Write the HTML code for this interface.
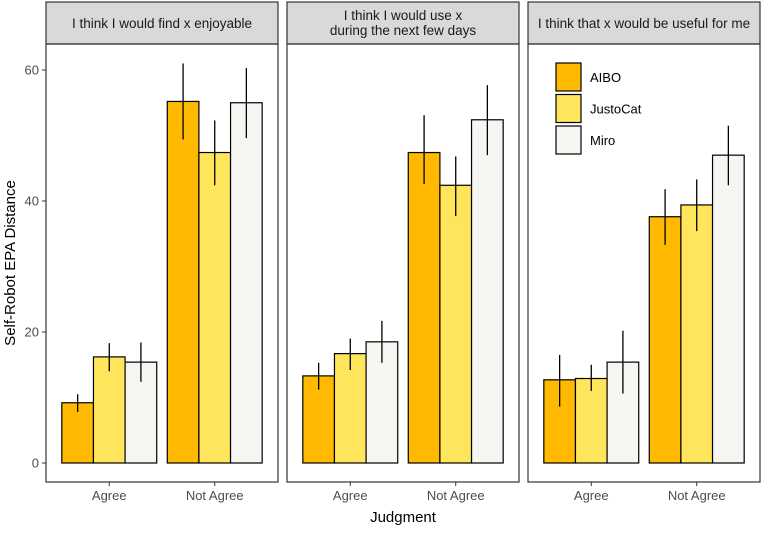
<!DOCTYPE html>
<html><head><meta charset="utf-8"><style>
body{margin:0;background:#fff;font-family:"Liberation Sans",sans-serif}
svg text{font-family:"Liberation Sans",sans-serif}
</style></head><body>
<svg id="c" width="762" height="528" xmlns="http://www.w3.org/2000/svg"></svg>
<script>
const panels=["I think I would find x enjoyable","I think I would use x|during the next few days","I think that x would be useful for me"];
const categories=["Agree","Not Agree"];
const series=["AIBO","JustoCat","Miro"];
const colors=["#FFB900","#FFE55C","#F5F5F2"];
const means=[[[9.2,16.2,15.4],[55.2,47.4,55]],[[13.3,16.7,18.5],[47.4,42.4,52.4]],[[12.7,12.9,15.4],[37.6,39.4,47]]];
const lows=[[[7.8,14.0,12.4],[49.4,42.4,49.6]],[[11.2,14.2,15.3],[42.6,37.7,47]],[[8.6,11,10.6],[33.3,35.4,42.4]]];
const highs=[[[10.5,18.3,18.4],[61,52.3,60.3]],[[15.3,19,21.7],[53.1,46.8,57.7]],[[16.5,15,20.2],[41.8,43.3,51.5]]];
const yTicks=[0,20,40,60];
const svg=document.getElementById('c');const NS="http://www.w3.org/2000/svg";
function mk(t,a,p){const e=document.createElementNS(NS,t);for(const k in a)e.setAttribute(k,a[k]);(p||svg).appendChild(e);return e;}
const plotTop=44,bot=482,y0=463,ppu=(463-70)/60;
const y=v=>y0-v*ppu;
const pX=[46,287,528],pW=232;
panels.forEach((title,pi)=>{
  const g=mk('g',{});
  
  
  const x0=pX[pi];const u=pW/2.2;
  const xs=v=>x0+(v-0.4)*u;
  const strip=mk('rect',{x:x0,y:2,width:pW,height:42,fill:'#D9D9D9',stroke:'#333','stroke-width':1.2},g);
  
  
  const lines=title.split('|');
  lines.forEach((l,i)=>{const t=mk('text',{x:x0+pW/2,y:lines.length==1?28:20+i*15,'text-anchor':'middle','font-size':13.5,fill:'#1a1a1a'},g);t.textContent=l;
    
    });
  categories.forEach((c,ci)=>{
    series.forEach((s,si)=>{
      const cx=ci+1-0.3+si*0.3;
      const b=mk('rect',{x:xs(cx-0.15),y:y(means[pi][ci][si]),width:0.3*u,height:y0-y(means[pi][ci][si]),fill:colors[si],stroke:'#000','stroke-width':1.2},g);
      
      
    });
    series.forEach((s,si)=>{
      const cx=ci+1-0.3+si*0.3;
      const e=mk('line',{x1:xs(cx),x2:xs(cx),y1:y(lows[pi][ci][si]),y2:y(highs[pi][ci][si]),stroke:'#000','stroke-width':1.3},g);
      
      
    });
    mk('line',{x1:xs(ci+1),x2:xs(ci+1),y1:bot,y2:bot+4,stroke:'#333'},g);
    const t=mk('text',{x:xs(ci+1),y:bot+18,'text-anchor':'middle','font-size':13,fill:'#4d4d4d'},g);t.textContent=c;
    
    
  });
  const fr=mk('rect',{x:x0,y:plotTop,width:pW,height:bot-plotTop,fill:'none',stroke:'#333','stroke-width':1.2},g);
  
  
});
yTicks.forEach(v=>{mk('line',{x1:42,x2:46,y1:y(v),y2:y(v),stroke:'#333'});
  const t=mk('text',{x:39,y:y(v)+4.5,'text-anchor':'end','font-size':13,fill:'#4d4d4d'});t.textContent=v;
  
  });
let t=mk('text',{x:0,y:0,transform:'translate(15,263) rotate(-90)','text-anchor':'middle','font-size':15,fill:'#000'});t.textContent='Self-Robot EPA Distance';


t=mk('text',{x:403,y:522,'text-anchor':'middle','font-size':15,fill:'#000'});t.textContent='Judgment';


series.forEach((s,i)=>{
  const yy=63+i*31.5;
  const r=mk('rect',{x:556,y:yy,width:25,height:28,fill:colors[i],stroke:'#000','stroke-width':1.2});
  
  
  const tt=mk('text',{x:590,y:yy+19,'font-size':13,fill:'#000'});tt.textContent=s;
  
  
});
</script>
</body></html>
